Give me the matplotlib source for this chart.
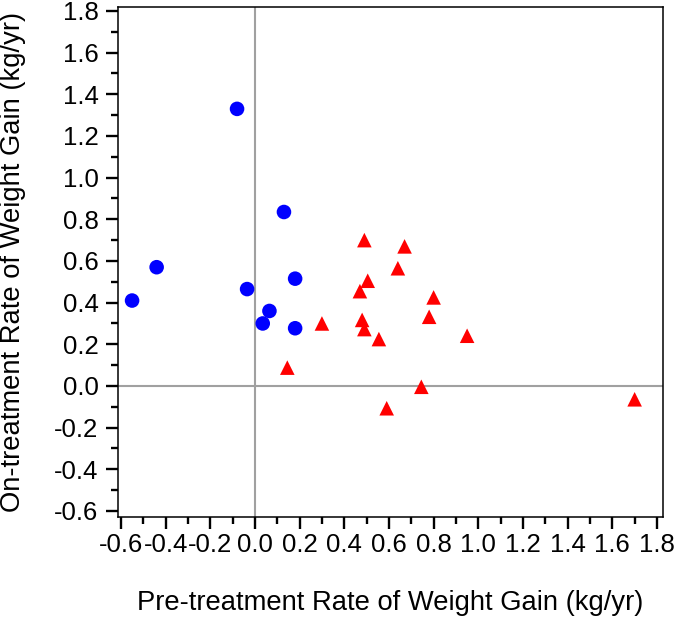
"""Pre- vs on-treatment rate of weight gain scatter."""
import matplotlib
matplotlib.use("Agg")
import matplotlib.pyplot as plt
from matplotlib.ticker import MultipleLocator, FormatStrFormatter

# blue circles
circle_x = [-0.08, 0.13, -0.44, -0.55, -0.035, 0.18, 0.065, 0.035, 0.18]
circle_y = [1.33, 0.835, 0.57, 0.41, 0.465, 0.515, 0.36, 0.30, 0.277]

# red triangles
tri_x = [0.49, 0.67, 0.64, 0.505, 0.47, 0.80, 0.78, 0.30, 0.48, 0.49, 0.555,
         0.95, 0.145, 0.745, 0.59, 1.70]
tri_y = [0.70, 0.67, 0.565, 0.505, 0.455, 0.425, 0.332, 0.30, 0.317, 0.273,
         0.225, 0.241, 0.088, -0.004, -0.107, -0.064]

plt.rcParams["font.family"] = ["Liberation Sans", "DejaVu Sans"]
plt.rcParams["axes.unicode_minus"] = False

fig = plt.figure(figsize=(6.77, 6.22), dpi=100)
ax = fig.add_axes([118 / 677, 105 / 622, 545 / 677, 510 / 622])

ax.axhline(0, color="#a0a0a0", lw=1.5, zorder=1)
ax.axvline(0, color="#a0a0a0", lw=1.5, zorder=1)

ax.scatter(circle_x, circle_y, s=110, marker="o", color="#0000ff",
           edgecolors="none", zorder=3)
ax.scatter(tri_x, tri_y, s=110, marker="^", color="#ff0000",
           edgecolors="none", zorder=3)

ax.set_xlim(-0.613, 1.827)
ax.set_ylim(-0.629, 1.819)

for a in (ax.xaxis, ax.yaxis):
    a.set_major_locator(MultipleLocator(0.2))
    a.set_minor_locator(MultipleLocator(0.1))
    a.set_major_formatter(FormatStrFormatter("%.1f"))

ax.tick_params(which="major", direction="out", length=8.5, width=1.7,
               labelsize=18.5, color="black")
ax.tick_params(which="minor", direction="out", length=5, width=1.7)
ax.tick_params(axis="x", which="major", pad=3)
ax.tick_params(axis="y", which="major", pad=5.5)

for sp in ax.spines.values():
    sp.set_linewidth(1.1)
    sp.set_color("black")

ax.set_xlabel("Pre-treatment Rate of Weight Gain (kg/yr)", fontsize=19.7,
              labelpad=24)
ax.set_ylabel("On-treatment Rate of Weight Gain (kg/yr)", fontsize=19.7,
              labelpad=20)

fig.savefig("out.png", dpi=100)
